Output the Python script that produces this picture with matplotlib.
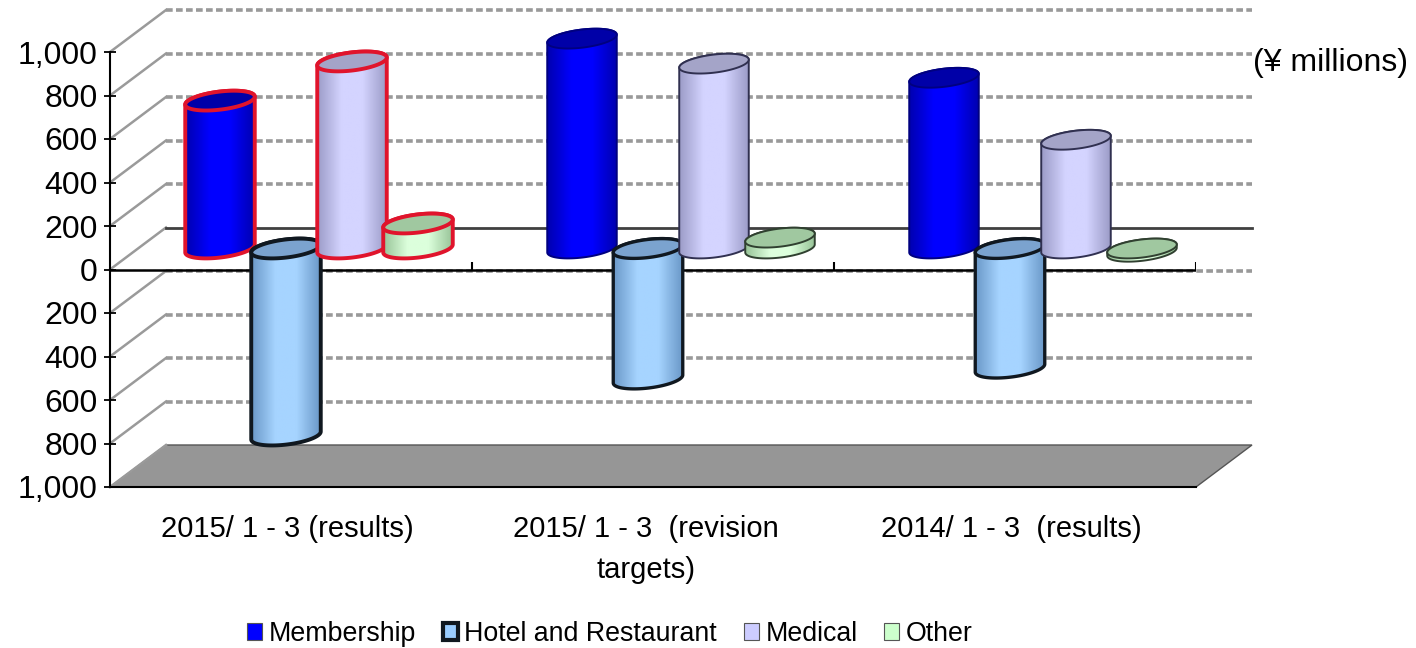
import numpy as np
import matplotlib
matplotlib.use('Agg')
import matplotlib.pyplot as plt
from matplotlib.colors import LinearSegmentedColormap
from matplotlib.patches import Patch, Polygon
from matplotlib.path import Path
from matplotlib.ticker import FuncFormatter

plt.rcParams['font.family'] = ['Liberation Sans', 'DejaVu Sans']

# chart values, yen millions
categories = ['2015/ 1 - 3 (results)', '2015/ 1 - 3  (revision\ntargets)', '2014/ 1 - 3  (results)']
series = ['Membership', 'Hotel and Restaurant', 'Medical', 'Other']
membership = [680, 965, 785]
hotel = [-860, -600, -550]
medical = [860, 850, 500]
other = [115, 50, -15]
y_ticks = [-1000, -800, -600, -400, -200, 0, 200, 400, 600, 800, 1000]

# colours for each series: side edge, side middle, top ellipse
side_dark = ['#0000B0', '#6A98C8', '#9C9CC8', '#98C498']
side_light = ['#0000FF', '#A6D4FF', '#D4D4FF', '#DCFFDC']
top_color = ['#0000A8', '#7BA3CF', '#A4A4C8', '#A0C8A0']
legend_color = ['#0000FF', '#99CCFF', '#CCCCFF', '#CCFFCC']
plain_edge = ['#000080', '#101820', '#303050', '#304030']
highlight_edge = ['#E0142C', '#101820', '#E0142C', '#E0142C']

fig = plt.figure(figsize=(14.16, 6.48), dpi=100)
ax = fig.add_axes([110 / 1416, (648 - 487) / 648, 1086 / 1416, 435 / 648])
ax.set_facecolor('none')

# size of one pixel in data units
px_x = 3 / 1086
px_y = 2000 / 435
depth_x = 56 * px_x
depth_y = 42 * px_y

# walls and floor
floor = Polygon([(0, -1000), (3, -1000), (3 + depth_x, -1000 + depth_y), (depth_x, -1000 + depth_y)],
                closed=True, facecolor='#969696', edgecolor='#555555', linewidth=1, zorder=1, clip_on=False)
ax.add_patch(floor)
for v in y_ticks:
    ax.plot([0, depth_x], [v, v + depth_y], color='#9a9a9a', lw=1.8, zorder=1, clip_on=False)
    if v == 0:
        ax.plot([depth_x, 3 + depth_x], [v + depth_y, v + depth_y], color='#404040', lw=2, zorder=1, clip_on=False)
    elif v > -1000:
        ax.plot([depth_x, 3 + depth_x], [v + depth_y, v + depth_y], color='#999999', lw=2.6,
                dashes=(1.85, 0.92), zorder=1, clip_on=False)
ax.plot([0, 3], [0, 0], color='black', lw=1.8, zorder=2)
ax.vlines([1, 2, 3], 0, 8 * px_y, color='black', lw=1.5, zorder=2)


def draw_cylinder(x, value, dark, light, top, edge, lw, z):
    # ellipse outline in pixels, tilted slightly upwards to the right
    a, b, tilt = 35, 9, np.radians(7)
    t0 = -np.arctan2(b * np.sin(tilt), a * np.cos(tilt))
    t = t0 + np.linspace(0, 2 * np.pi, 121)
    ex = (a * np.cos(t) * np.cos(tilt) - b * np.sin(t) * np.sin(tilt)) * px_x
    ey = (a * np.cos(t) * np.sin(tilt) + b * np.sin(t) * np.cos(tilt)) * px_y
    hi = max(value, 0)
    lo = min(value, 0)
    # t starts at the right extreme, half way round is the left extreme
    xs = np.r_[ex[:61], ex[60:]] + x
    ys = np.r_[ey[:61] + hi, ey[60:] + lo] + depth_y / 2
    body = Polygon(np.c_[xs, ys], closed=True, facecolor='none', edgecolor=edge, lw=lw, zorder=z + 0.2,
                   joinstyle='round', clip_on=False)
    cmap = LinearSegmentedColormap.from_list('side', [(0, dark), (0.35, light), (0.65, light), (1, dark)])
    img = ax.imshow(np.linspace(0, 1, 64).reshape(1, -1), extent=[xs.min(), xs.max(), ys.min(), ys.max()],
                    cmap=cmap, aspect='auto', zorder=z, interpolation='bilinear')
    ax.add_patch(body)
    img.set_clip_path(Path(np.c_[xs, ys]), ax.transData)
    img.set_clip_box(fig.bbox)
    lid = Polygon(np.c_[ex + x, ey + hi + depth_y / 2], closed=True, facecolor=top, edgecolor=edge, lw=lw,
                  zorder=z + 0.3, clip_on=False)
    ax.add_patch(lid)


values = [membership, hotel, medical, other]
step = 66 * px_x
z = 3
for c in range(len(categories)):
    for s in range(len(series)):
        x = c + 0.5 + (s - 1.5) * step + depth_x / 2
        if c == 0:
            edge = highlight_edge[s]
            lw = 2.8
        else:
            edge = plain_edge[s]
            lw = 2.4 if s == 1 else 1.4
        draw_cylinder(x, values[s][c], side_dark[s], side_light[s], top_color[s], edge, lw, z)
        z += 1

ax.set_xlim(0, 3)
ax.set_ylim(-1000, 1000)
for name in ['top', 'right']:
    ax.spines[name].set_visible(False)
ax.spines['bottom'].set_linewidth(1.5)
ax.spines['left'].set_linewidth(1.5)
ax.set_yticks(y_ticks)
ax.yaxis.set_major_formatter(FuncFormatter(lambda v, pos: f'{abs(v):,.0f}'))
ax.tick_params(axis='y', direction='inout', length=8, width=1.3, labelsize=23, pad=5)
ax.set_xticks([0.49, 1.48, 2.49])
ax.set_xticklabels(categories, fontsize=21, linespacing=1.6)
ax.tick_params(axis='x', length=0, pad=20)

fig.text(1253 / 1416, 1 - 63 / 648, '(¥ millions)', fontsize=23, va='center', ha='left')

handles = [Patch(facecolor=legend_color[i], edgecolor='#101820' if i == 1 else '#555555',
                 linewidth=3 if i == 1 else 0.8, label=series[i]) for i in range(4)]
fig.legend(handles=handles, ncol=4, loc='center', bbox_to_anchor=(610 / 1416, 1 - 634 / 648), frameon=False,
           fontsize=19.3, handlelength=0.55, handleheight=0.55, handletextpad=0.25, columnspacing=1.0)

plt.savefig('out.png', dpi=100, transparent=False)
